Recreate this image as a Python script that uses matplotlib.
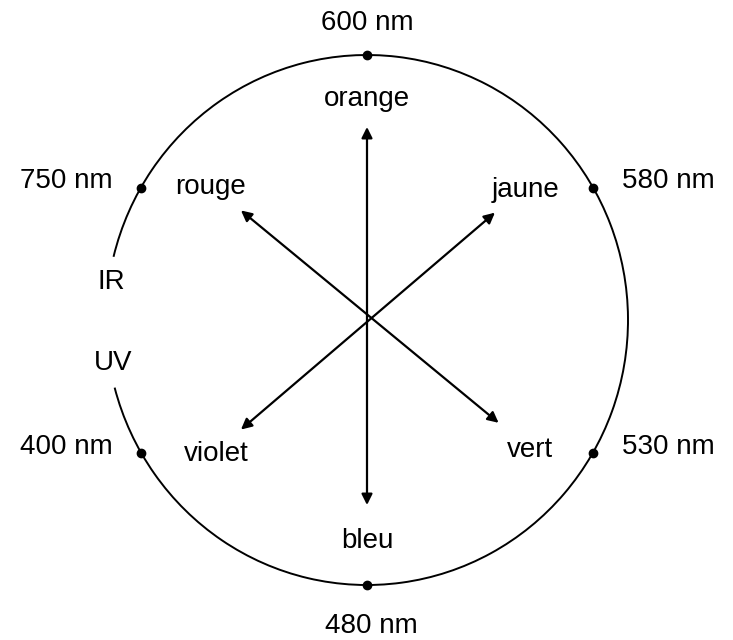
import numpy as np
import matplotlib
matplotlib.use("Agg")
import matplotlib.pyplot as plt
from matplotlib.patches import Arc

# wavelength marks on the wheel (angle in degrees, counter-clockwise from east)
wavelengths = ["600 nm", "580 nm", "530 nm", "480 nm", "400 nm", "750 nm"]
wave_angles = [90, 30, -30, -90, -150, 150]

# colour names and the direction of their arrows
colour_names = ["orange", "jaune", "vert", "bleu", "violet", "rouge"]
colour_angles = [90, 40, -38, -90, -139, 139]
arrow_pairs = [("orange", "bleu"), ("jaune", "violet"), ("rouge", "vert")]

# gap in the wheel between IR and UV
gap_labels = ["IR", "UV"]
gap_angles = [166, 195]

plt.rcParams["font.family"] = ["Liberation Sans", "DejaVu Sans"]

W, H = 733, 640
fig = plt.figure(figsize=(W / 100, H / 100), dpi=100)
ax = fig.add_axes([0, 0, 1, 1])
ax.set_xlim(0, W)
ax.set_ylim(0, H)
ax.axis("off")

cx, cy = 367, 320
rx, ry = 261, 265
fs = 20

# wheel with the IR/UV gap on the left
ax.add_patch(Arc((cx, cy), 2 * rx, 2 * ry, theta1=gap_angles[1] - 360,
                 theta2=gap_angles[0], lw=1.4, color="black"))

# wavelength dots and labels
for lab, a in zip(wavelengths, wave_angles):
    t = np.radians(a)
    x, y = cx + rx * np.cos(t), cy + ry * np.sin(t)
    ax.plot(x, y, "o", color="black", ms=6)
    if a in (90, -90):
        ax.text(x + (0 if a == 90 else 4), y + (32 if a == 90 else -41), lab,
                ha="center", va="center", fontsize=fs)
    else:
        side = 1 if np.cos(t) > 0 else -1
        ax.text(x + side * 75, y + 6, lab, ha="center", va="center", fontsize=fs)

# IR / UV labels at the ends of the gap
ax.text(111, H - 282, gap_labels[0], ha="center", va="center", fontsize=fs)
ax.text(113, H - 363, gap_labels[1], ha="center", va="center", fontsize=fs)

# colour arrows through the centre
arrow_len = {90: 193, -90: 185}
tips = {}
for name, a in zip(colour_names, colour_angles):
    t = np.radians(a)
    r = arrow_len.get(a, 167)
    tips[name] = (cx + r * np.cos(t), cy + r * np.sin(t))
for a_name, b_name in arrow_pairs:
    ax.annotate("", xy=tips[a_name], xytext=tips[b_name],
                arrowprops=dict(arrowstyle="<|-|>", lw=1.6, color="black",
                                mutation_scale=16, shrinkA=0, shrinkB=0))

# colour labels
label_r = {90: 224, -90: 218, -139: 200}
for name, a in zip(colour_names, colour_angles):
    t = np.radians(a)
    r = label_r.get(a, 207)
    ax.text(cx + r * np.cos(t), cy + r * np.sin(t) - 3, name,
            ha="center", va="center", fontsize=fs)

fig.savefig("out.png", dpi=100)
